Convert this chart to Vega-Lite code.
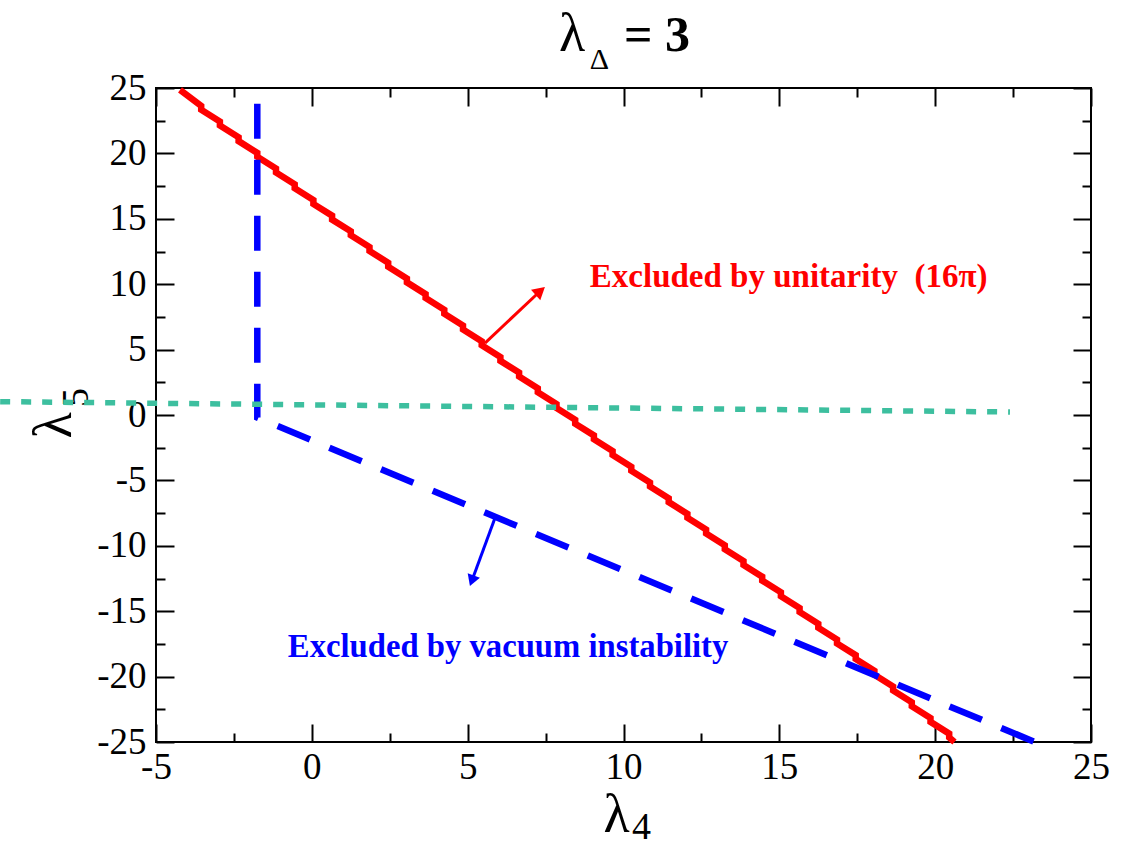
{
  "$schema": "https://vega.github.io/schema/vega-lite/v6.json",
  "width": 935,
  "height": 654,
  "autosize": {"type": "none"},
  "padding": {"left": 156, "top": 88, "right": 47, "bottom": 105},
  "background": "white",
  "config": {
    "view": {"stroke": "black", "strokeWidth": 2},
    "axis": {
      "domain": false, "grid": false, "tickColor": "black", "tickWidth": 2,
      "labelFont": "Liberation Serif", "labelFontSize": 37, "labelColor": "black",
      "titleFont": "Liberation Serif", "titleColor": "black", "titleFontWeight": "normal"
    }
  },
  "datasets": {
    "unitarity": [
      {"seq": 0, "lam4": -4.23, "lam5": 24.85},
      {"seq": 1, "lam4": -3.55, "lam5": 23.64}, {"seq": 2, "lam4": -3.55, "lam5": 23.34},
      {"seq": 3, "lam4": -2.95, "lam5": 22.44}, {"seq": 4, "lam4": -2.95, "lam5": 22.14},
      {"seq": 5, "lam4": -2.35, "lam5": 21.24}, {"seq": 6, "lam4": -2.35, "lam5": 20.94},
      {"seq": 7, "lam4": -1.75, "lam5": 20.04}, {"seq": 8, "lam4": -1.75, "lam5": 19.74},
      {"seq": 9, "lam4": -1.15, "lam5": 18.84}, {"seq": 10, "lam4": -1.15, "lam5": 18.54},
      {"seq": 11, "lam4": -0.55, "lam5": 17.64}, {"seq": 12, "lam4": -0.55, "lam5": 17.34},
      {"seq": 13, "lam4": 0.05, "lam5": 16.44}, {"seq": 14, "lam4": 0.05, "lam5": 16.14},
      {"seq": 15, "lam4": 0.65, "lam5": 15.24}, {"seq": 16, "lam4": 0.65, "lam5": 14.94},
      {"seq": 17, "lam4": 1.25, "lam5": 14.04}, {"seq": 18, "lam4": 1.25, "lam5": 13.74},
      {"seq": 19, "lam4": 1.85, "lam5": 12.84}, {"seq": 20, "lam4": 1.85, "lam5": 12.54},
      {"seq": 21, "lam4": 2.45, "lam5": 11.64}, {"seq": 22, "lam4": 2.45, "lam5": 11.34},
      {"seq": 23, "lam4": 3.05, "lam5": 10.44}, {"seq": 24, "lam4": 3.05, "lam5": 10.14},
      {"seq": 25, "lam4": 3.65, "lam5": 9.24}, {"seq": 26, "lam4": 3.65, "lam5": 8.94},
      {"seq": 27, "lam4": 4.25, "lam5": 8.04}, {"seq": 28, "lam4": 4.25, "lam5": 7.74},
      {"seq": 29, "lam4": 4.85, "lam5": 6.84}, {"seq": 30, "lam4": 4.85, "lam5": 6.54},
      {"seq": 31, "lam4": 5.45, "lam5": 5.64}, {"seq": 32, "lam4": 5.45, "lam5": 5.34},
      {"seq": 33, "lam4": 6.05, "lam5": 4.44}, {"seq": 34, "lam4": 6.05, "lam5": 4.14},
      {"seq": 35, "lam4": 6.65, "lam5": 3.24}, {"seq": 36, "lam4": 6.65, "lam5": 2.94},
      {"seq": 37, "lam4": 7.25, "lam5": 2.04}, {"seq": 38, "lam4": 7.25, "lam5": 1.74},
      {"seq": 39, "lam4": 7.85, "lam5": 0.84}, {"seq": 40, "lam4": 7.85, "lam5": 0.54},
      {"seq": 41, "lam4": 8.45, "lam5": -0.36}, {"seq": 42, "lam4": 8.45, "lam5": -0.66},
      {"seq": 43, "lam4": 9.05, "lam5": -1.56}, {"seq": 44, "lam4": 9.05, "lam5": -1.86},
      {"seq": 45, "lam4": 9.65, "lam5": -2.76}, {"seq": 46, "lam4": 9.65, "lam5": -3.06},
      {"seq": 47, "lam4": 10.25, "lam5": -3.96}, {"seq": 48, "lam4": 10.25, "lam5": -4.26},
      {"seq": 49, "lam4": 10.85, "lam5": -5.16}, {"seq": 50, "lam4": 10.85, "lam5": -5.46},
      {"seq": 51, "lam4": 11.45, "lam5": -6.36}, {"seq": 52, "lam4": 11.45, "lam5": -6.66},
      {"seq": 53, "lam4": 12.05, "lam5": -7.56}, {"seq": 54, "lam4": 12.05, "lam5": -7.86},
      {"seq": 55, "lam4": 12.65, "lam5": -8.76}, {"seq": 56, "lam4": 12.65, "lam5": -9.06},
      {"seq": 57, "lam4": 13.25, "lam5": -9.96}, {"seq": 58, "lam4": 13.25, "lam5": -10.26},
      {"seq": 59, "lam4": 13.85, "lam5": -11.16}, {"seq": 60, "lam4": 13.85, "lam5": -11.46},
      {"seq": 61, "lam4": 14.45, "lam5": -12.36}, {"seq": 62, "lam4": 14.45, "lam5": -12.66},
      {"seq": 63, "lam4": 15.05, "lam5": -13.56}, {"seq": 64, "lam4": 15.05, "lam5": -13.86},
      {"seq": 65, "lam4": 15.65, "lam5": -14.76}, {"seq": 66, "lam4": 15.65, "lam5": -15.06},
      {"seq": 67, "lam4": 16.25, "lam5": -15.96}, {"seq": 68, "lam4": 16.25, "lam5": -16.26},
      {"seq": 69, "lam4": 16.85, "lam5": -17.16}, {"seq": 70, "lam4": 16.85, "lam5": -17.46},
      {"seq": 71, "lam4": 17.45, "lam5": -18.36}, {"seq": 72, "lam4": 17.45, "lam5": -18.66},
      {"seq": 73, "lam4": 18.05, "lam5": -19.56}, {"seq": 74, "lam4": 18.05, "lam5": -19.86},
      {"seq": 75, "lam4": 18.65, "lam5": -20.76}, {"seq": 76, "lam4": 18.65, "lam5": -21.06},
      {"seq": 77, "lam4": 19.25, "lam5": -21.96}, {"seq": 78, "lam4": 19.25, "lam5": -22.26},
      {"seq": 79, "lam4": 19.85, "lam5": -23.16}, {"seq": 80, "lam4": 19.85, "lam5": -23.46},
      {"seq": 81, "lam4": 20.45, "lam5": -24.36}, {"seq": 82, "lam4": 20.45, "lam5": -24.66},
      {"seq": 83, "lam4": 20.62, "lam5": -25.0}
    ],
    "vacuum": [
      {"seq": 0, "lam4": -1.75, "lam5": 23.8},
      {"seq": 1, "lam4": -1.75, "lam5": -0.2},
      {"seq": 2, "lam4": 23.2, "lam5": -25.0}
    ],
    "green": [
      {"seq": 0, "lam4": -10.0, "lam5": 1.02},
      {"seq": 1, "lam4": 22.4, "lam5": 0.23}
    ],
    "redArrow": [
      {"seq": 0, "lam4": 5.555, "lam5": 5.5},
      {"seq": 1, "lam4": 7.33, "lam5": 9.48}
    ],
    "redHead": [{"lam4": 7.33, "lam5": 9.48}],
    "blueArrow": [
      {"seq": 0, "lam4": 5.876, "lam5": -7.87},
      {"seq": 1, "lam4": 5.135, "lam5": -12.67}
    ],
    "blueHead": [{"lam4": 5.135, "lam5": -12.67}],
    "redLabel": [{"lam4": 8.92, "lam5": 9.75, "label": "Excluded by unitarity\u00a0\u00a0(16π)"}],
    "blueLabel": [{"lam4": -0.77, "lam5": -18.5, "label": "Excluded by vacuum instability"}]
  },
  "layer": [
    {
      "data": {"name": "unitarity"},
      "mark": {"type": "line", "color": "#ff0000", "strokeWidth": 6.5, "clip": false},
      "encoding": {
        "x": {"field": "lam4", "type": "quantitative", "scale": {"domain": [-5, 25], "nice": false, "zero": false},
          "axis": {"orient": "bottom", "values": [-5, 0, 5, 10, 15, 20, 25], "tickSize": -18, "labelPadding": 25,
            "labelExpr": "'' + datum.value", "labelFlush": false, "labelOverlap": false,
            "title": "λ", "titleFontSize": 54, "titleX": 460, "titleY": 89, "titleAngle": 0, "titleAlign": "center", "titleBaseline": "alphabetic"}},
        "y": {"field": "lam5", "type": "quantitative", "scale": {"domain": [-25, 25], "nice": false, "zero": false},
          "axis": {"orient": "left", "values": [-25, -20, -15, -10, -5, 0, 5, 10, 15, 20, 25], "tickSize": -18, "labelPadding": 28,
            "labelExpr": "'' + datum.value", "labelFlush": false, "labelOverlap": false,
            "title": "λ", "titleFontSize": 54, "titleX": -86, "titleY": 337, "titleAngle": -90, "titleAlign": "center", "titleBaseline": "alphabetic"}},
        "order": {"field": "seq", "type": "quantitative"}
      }
    },
    {
      "data": {"name": "vacuum"},
      "mark": {"type": "line", "color": "#0000ff", "strokeWidth": 6.5, "strokeDash": [35, 21], "strokeCap": "butt", "clip": false},
      "encoding": {
        "x": {"field": "lam4", "type": "quantitative", "scale": {"domain": [-5, 25], "nice": false, "zero": false},
          "axis": {"orient": "bottom", "values": [-2.5, 2.5, 7.5, 12.5, 17.5, 22.5], "tickSize": -9, "labels": false,
            "title": "4", "titleFontSize": 38, "titleX": 485, "titleY": 96, "titleAngle": 0, "titleAlign": "center", "titleBaseline": "alphabetic"}},
        "y": {"field": "lam5", "type": "quantitative", "scale": {"domain": [-25, 25], "nice": false, "zero": false},
          "axis": {"orient": "left", "values": [-22.5, -17.5, -12.5, -7.5, -2.5, 2.5, 7.5, 12.5, 17.5, 22.5], "tickSize": -9, "labels": false,
            "title": "5", "titleFontSize": 38, "titleX": -69, "titleY": 309, "titleAngle": -90, "titleAlign": "center", "titleBaseline": "alphabetic"}},
        "order": {"field": "seq", "type": "quantitative"}
      }
    },
    {
      "data": {"name": "green"},
      "mark": {"type": "line", "color": "#3dbf9f", "strokeWidth": 5.5, "strokeDash": [10, 11], "strokeCap": "butt", "clip": false},
      "encoding": {
        "x": {"field": "lam4", "type": "quantitative", "scale": {"domain": [-5, 25], "nice": false, "zero": false},
          "axis": {"orient": "top", "values": [-5, 0, 5, 10, 15, 20, 25], "tickSize": -18, "labels": false,
            "title": "λ", "titleFontSize": 54, "titleX": 415.5, "titleY": -38, "titleAngle": 0, "titleAlign": "center", "titleBaseline": "alphabetic"}},
        "y": {"field": "lam5", "type": "quantitative", "scale": {"domain": [-25, 25], "nice": false, "zero": false},
          "axis": {"orient": "right", "values": [-25, -20, -15, -10, -5, 0, 5, 10, 15, 20, 25], "tickSize": -18, "labels": false,
            "title": "= 3", "titleFontSize": 50, "titleFontWeight": "bold", "titleX": -434.5, "titleY": -38, "titleAngle": 0, "titleAlign": "center", "titleBaseline": "alphabetic"}},
        "order": {"field": "seq", "type": "quantitative"}
      }
    },
    {
      "data": {"name": "redLabel"},
      "mark": {"type": "text", "color": "#ff0000", "font": "Liberation Serif", "fontWeight": "bold", "fontSize": 33, "align": "left", "baseline": "alphabetic"},
      "encoding": {
        "x": {"field": "lam4", "type": "quantitative", "scale": {"domain": [-5, 25], "nice": false, "zero": false},
          "axis": {"orient": "top", "values": [-2.5, 2.5, 7.5, 12.5, 17.5, 22.5], "tickSize": -9, "labels": false,
            "title": "Δ", "titleFontSize": 30, "titleX": 443, "titleY": -20, "titleAngle": 0, "titleAlign": "center", "titleBaseline": "alphabetic"}},
        "y": {"field": "lam5", "type": "quantitative", "scale": {"domain": [-25, 25], "nice": false, "zero": false},
          "axis": {"orient": "right", "values": [-22.5, -17.5, -12.5, -7.5, -2.5, 2.5, 7.5, 12.5, 17.5, 22.5], "tickSize": -9, "labels": false, "title": null}},
        "text": {"field": "label", "type": "nominal"}
      }
    },
    {
      "data": {"name": "blueLabel"},
      "mark": {"type": "text", "color": "#0000ff", "font": "Liberation Serif", "fontWeight": "bold", "fontSize": 32.7, "align": "left", "baseline": "alphabetic"},
      "encoding": {
        "x": {"field": "lam4", "type": "quantitative", "scale": {"domain": [-5, 25], "nice": false, "zero": false}, "axis": null},
        "y": {"field": "lam5", "type": "quantitative", "scale": {"domain": [-25, 25], "nice": false, "zero": false}, "axis": null},
        "text": {"field": "label", "type": "nominal"}
      }
    },
    {
      "data": {"name": "redArrow"},
      "mark": {"type": "line", "color": "#ff0000", "strokeWidth": 3, "clip": false},
      "encoding": {
        "x": {"field": "lam4", "type": "quantitative", "scale": {"domain": [-5, 25], "nice": false, "zero": false}, "axis": null},
        "y": {"field": "lam5", "type": "quantitative", "scale": {"domain": [-25, 25], "nice": false, "zero": false}, "axis": null},
        "order": {"field": "seq", "type": "quantitative"}
      }
    },
    {
      "data": {"name": "redHead"},
      "mark": {"type": "point", "shape": "triangle-up", "filled": true, "size": 200, "angle": 49.2, "color": "#ff0000", "opacity": 1},
      "encoding": {
        "x": {"field": "lam4", "type": "quantitative", "scale": {"domain": [-5, 25], "nice": false, "zero": false}, "axis": null},
        "y": {"field": "lam5", "type": "quantitative", "scale": {"domain": [-25, 25], "nice": false, "zero": false}, "axis": null}
      }
    },
    {
      "data": {"name": "blueArrow"},
      "mark": {"type": "line", "color": "#0000ff", "strokeWidth": 3, "clip": false},
      "encoding": {
        "x": {"field": "lam4", "type": "quantitative", "scale": {"domain": [-5, 25], "nice": false, "zero": false}, "axis": null},
        "y": {"field": "lam5", "type": "quantitative", "scale": {"domain": [-25, 25], "nice": false, "zero": false}, "axis": null},
        "order": {"field": "seq", "type": "quantitative"}
      }
    },
    {
      "data": {"name": "blueHead"},
      "mark": {"type": "point", "shape": "triangle-up", "filled": true, "size": 170, "angle": 200.2, "color": "#0000ff", "opacity": 1},
      "encoding": {
        "x": {"field": "lam4", "type": "quantitative", "scale": {"domain": [-5, 25], "nice": false, "zero": false}, "axis": null},
        "y": {"field": "lam5", "type": "quantitative", "scale": {"domain": [-25, 25], "nice": false, "zero": false}, "axis": null}
      }
    }
  ],
  "resolve": {"axis": {"x": "independent", "y": "independent"}}
}
